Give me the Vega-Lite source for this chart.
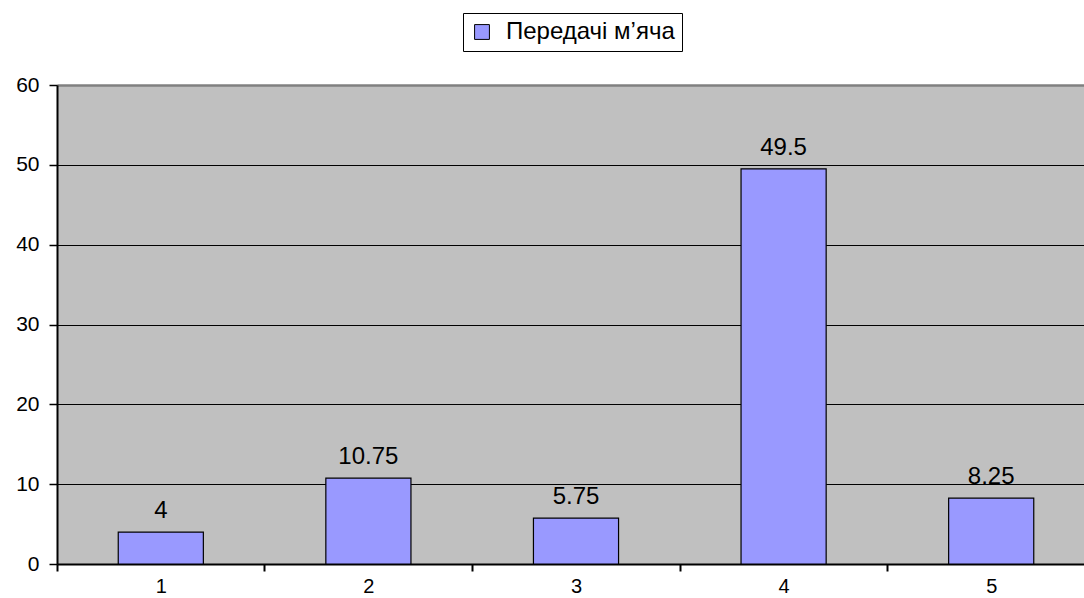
{
  "$schema": "https://vega.github.io/schema/vega-lite/v6.json",
  "autosize": "none",
  "width": 1027,
  "height": 479,
  "padding": {"left": 57, "top": 85, "right": 0, "bottom": 34},
  "background": "white",
  "config": {
    "view": {"fill": "#c0c0c0", "stroke": null},
    "font": "Liberation Sans"
  },
  "data": {
    "values": [
      {"cat": "1", "value": 4, "label": "4", "series": "Передачі м’яча"},
      {"cat": "2", "value": 10.75, "label": "10.75", "series": "Передачі м’яча"},
      {"cat": "3", "value": 5.75, "label": "5.75", "series": "Передачі м’яча"},
      {"cat": "4", "value": 49.5, "label": "49.5", "series": "Передачі м’яча"},
      {"cat": "5", "value": 8.25, "label": "8.25", "series": "Передачі м’яча"}
    ]
  },
  "encoding": {
    "x": {
      "field": "cat", "type": "nominal", "sort": null,
      "scale": {"range": [0, 1038], "paddingInner": 0, "paddingOuter": 0},
      "axis": {
        "title": null, "labelAngle": 0, "labelFontSize": 20, "labelColor": "black",
        "labelFont": "Liberation Sans",
        "labelPadding": 5, "domainColor": "black", "domainWidth": 2,
        "tickColor": "black", "tickWidth": 2, "tickSize": 7, "tickOffset": -104,
        "labelOffset": 104,
        "grid": false
      }
    },
    "y": {
      "field": "value", "type": "quantitative",
      "scale": {"domain": [0, 60], "nice": false},
      "axis": {
        "title": null, "values": [0, 10, 20, 30, 40, 50, 60],
        "labelFontSize": 21, "labelColor": "black", "labelPadding": 10,
        "labelFont": "Liberation Sans",
        "domainColor": "black", "domainWidth": 2,
        "tickColor": "black", "tickWidth": 1.5, "tickSize": 8,
        "grid": true,
        "gridColor": {"condition": {"test": "datum.value == 60", "value": "#808080"}, "value": "black"},
        "gridWidth": {"condition": {"test": "datum.value == 60", "value": 2.5}, "value": 1.2},
        "gridOpacity": 1
      }
    }
  },
  "layer": [
    {
      "mark": {"type": "bar", "width": {"band": 0.41}, "stroke": "black", "strokeWidth": 1.2},
      "encoding": {
        "color": {
          "field": "series", "type": "nominal",
          "scale": {"range": ["#9999ff"]},
          "legend": {
            "title": null, "orient": "none", "legendX": 406, "legendY": -72,
            "direction": "horizontal",
            "labelFontSize": 24, "labelColor": "black", "labelFont": "Liberation Sans",
            "labelLimit": 500,
            "symbolType": "square", "symbolSize": 220, "symbolStrokeColor": "black",
            "symbolStrokeWidth": 1, "symbolOpacity": 1,
            "strokeColor": "black", "fillColor": "white", "padding": 7,
            "labelOffset": 12, "cornerRadius": 0
          }
        }
      }
    },
    {
      "mark": {"type": "text", "baseline": "bottom", "dy": -9, "fontSize": 24, "color": "black", "font": "Liberation Sans"},
      "encoding": {"text": {"field": "label", "type": "nominal"}}
    }
  ]
}
